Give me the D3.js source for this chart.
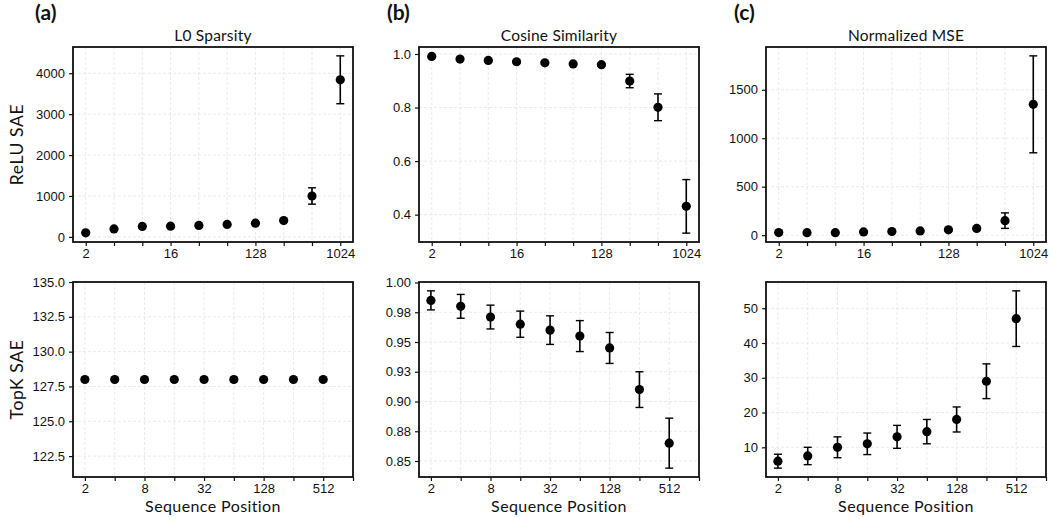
<!DOCTYPE html>
<html>
<head>
<meta charset="utf-8">
<script src="https://cdn.jsdelivr.net/npm/d3@7"></script>
<style>
  body { margin: 0; background: #fff; }
  svg { font-family: Lato, "Noto Sans", sans-serif; }
</style>
</head>
<body>
<svg id="chart" width="1049" height="519"></svg>
<script>

//Data
var posRelu = [2, 4, 8, 16, 32, 64, 128, 256, 512, 1024];
var posTopk = [2, 4, 8, 16, 32, 64, 128, 256, 512];

var reluL0 = [100, 195, 255, 262, 280, 305, 335, 400, 1000, 3840];
var reluL0Err = [8, 10, 10, 12, 14, 15, 18, 25, 200, 585];
var reluCos = [0.991, 0.981, 0.976, 0.971, 0.967, 0.963, 0.960, 0.899, 0.801, 0.431];
var reluCosErr = [0.002, 0.003, 0.003, 0.003, 0.004, 0.004, 0.005, 0.025, 0.05, 0.10];
var reluMse = [27, 26, 26, 33, 38, 44, 55, 70, 150, 1350];
var reluMseErr = [5, 5, 5, 6, 7, 8, 10, 12, 80, 500];

var topkL0 = [128, 128, 128, 128, 128, 128, 128, 128, 128];
var topkL0Err = [0, 0, 0, 0, 0, 0, 0, 0, 0];
var topkCos = [0.985, 0.980, 0.971, 0.965, 0.960, 0.955, 0.945, 0.910, 0.865];
var topkCosErr = [0.008, 0.010, 0.010, 0.011, 0.012, 0.013, 0.013, 0.015, 0.021];
var topkMse = [6, 7.5, 10, 11, 13, 14.5, 18, 29, 47];
var topkMseErr = [2, 2.5, 3, 3.1, 3.3, 3.5, 3.6, 5, 8];

//Tick labels
var reluXLabels = [2, 16, 128, 1024];
var topkXLabels = [2, 8, 32, 128, 512];
var l0TicksTop = [0, 1000, 2000, 3000, 4000];
var cosTicksTop = [0.4, 0.6, 0.8, 1.0];
var mseTicksTop = [0, 500, 1000, 1500];
var l0TicksBottom = [122.5, 125.0, 127.5, 130.0, 132.5, 135.0];
var cosTicksBottom = [0.85, 0.875, 0.9, 0.925, 0.95, 0.975, 1.0];
var cosLabelsBottom = ["0.85", "0.88", "0.90", "0.93", "0.95", "0.98", "1.00"];
var mseTicksBottom = [10, 20, 30, 40, 50];

var titles = ["L0 Sparsity", "Cosine Similarity", "Normalized MSE"];
var panelTags = ["(a)", "(b)", "(c)"];
var rowLabels = ["ReLU SAE", "TopK SAE"];

//Layout
var colX = [73, 419, 766], panelW = 280;
var rowY = [47, 282], panelH = 195;
var tagX = [35, 387, 734];

var svg = d3.select("#chart");

var panels = [
  {row: 0, col: 0, x: posRelu, y: reluL0, e: reluL0Err, ticks: l0TicksTop, fmt: d => d},
  {row: 0, col: 1, x: posRelu, y: reluCos, e: reluCosErr, ticks: cosTicksTop, fmt: d3.format(".1f")},
  {row: 0, col: 2, x: posRelu, y: reluMse, e: reluMseErr, ticks: mseTicksTop, fmt: d => d},
  {row: 1, col: 0, x: posTopk, y: topkL0, e: topkL0Err, ticks: l0TicksBottom, fmt: d3.format(".1f"), ylim: [121, 135]},
  {row: 1, col: 1, x: posTopk, y: topkCos, e: topkCosErr, ticks: cosTicksBottom, fmt: (d, i) => cosLabelsBottom[i]},
  {row: 1, col: 2, x: posTopk, y: topkMse, e: topkMseErr, ticks: mseTicksBottom, fmt: d => d}
];

panels.forEach(function(p) {
  var left = colX[p.col], top = rowY[p.row];
  var g = svg.append("g").attr("transform", "translate(" + left + "," + top + ")");

  //x scale: log2 with 5% margin, bottom row stretched to the 1024 tick
  var lx = p.x.map(Math.log2);
  var lo = d3.min(lx), hi = d3.max(lx), pad = (hi - lo) * 0.05;
  var xDom = p.row == 0 ? [lo - pad, hi + pad] : [lo - pad, Math.max(hi + pad, 10)];
  var xScale = d3.scaleLog().base(2)
      .domain([Math.pow(2, xDom[0]), Math.pow(2, xDom[1])])
      .range([0, panelW]);

  var yDom;
  if (p.ylim) {
    yDom = p.ylim;
  } else {
    var ymin = d3.min(p.y, (d, i) => d - p.e[i]);
    var ymax = d3.max(p.y, (d, i) => d + p.e[i]);
    var yp = (ymax - ymin) * 0.05;
    yDom = [ymin - yp, ymax + yp];
  }
  var yScale = d3.scaleLinear().domain(yDom).range([panelH, 0]);

  var xTicks = d3.range(1, 11).map(k => Math.pow(2, k))
      .filter(t => t <= xScale.domain()[1] + 1e-6);
  var xLabels = p.row == 0 ? reluXLabels : topkXLabels;

  //grid
  g.append("g").selectAll("line")
    .data(xTicks)
    .enter().append("line")
      .attr("x1", d => xScale(d)).attr("x2", d => xScale(d))
      .attr("y1", 0).attr("y2", panelH)
      .attr("stroke", "#e4e4e4").attr("stroke-width", 0.8)
      .attr("stroke-dasharray", "3,2");

  g.append("g").selectAll("line")
    .data(p.ticks)
    .enter().append("line")
      .attr("x1", 0).attr("x2", panelW)
      .attr("y1", d => yScale(d)).attr("y2", d => yScale(d))
      .attr("stroke", "#e4e4e4").attr("stroke-width", 0.8)
      .attr("stroke-dasharray", "3,2");

  //axes
  var xAxis = d3.axisBottom(xScale)
      .tickValues(xTicks)
      .tickSize(4).tickPadding(3)
      .tickFormat(d => xLabels.indexOf(d) >= 0 ? d : "");
  var xg = g.append("g").attr("transform", "translate(0," + panelH + ")").call(xAxis);
  xg.selectAll(".tick text").filter(function() { return this.textContent == ""; }).remove();

  var yAxis = d3.axisLeft(yScale)
      .tickValues(p.ticks).tickSize(4).tickPadding(4)
      .tickFormat(p.fmt);
  var yg = g.append("g").call(yAxis);

  [xg, yg].forEach(function(a) {
    a.select(".domain").remove();
    a.selectAll(".tick line").attr("stroke", "#111").attr("stroke-width", 1.2);
    a.selectAll(".tick text").attr("fill", "#111").style("font-size", "13px");
  });

  //frame
  g.append("rect")
    .attr("x", 0).attr("y", 0)
    .attr("width", panelW).attr("height", panelH)
    .attr("fill", "none").attr("stroke", "#111").attr("stroke-width", 1.8);

  //error bars
  var pts = p.x.map((d, i) => ({x: d, y: p.y[i], e: p.e[i]}));
  var eb = g.append("g").selectAll("g").data(pts.filter(d => d.e > 0)).enter().append("g");
  eb.append("line")
    .attr("x1", d => xScale(d.x)).attr("x2", d => xScale(d.x))
    .attr("y1", d => yScale(d.y - d.e)).attr("y2", d => yScale(d.y + d.e))
    .attr("stroke", "#000").attr("stroke-width", 1.6);
  eb.append("line")
    .attr("x1", d => xScale(d.x) - 4).attr("x2", d => xScale(d.x) + 4)
    .attr("y1", d => yScale(d.y - d.e)).attr("y2", d => yScale(d.y - d.e))
    .attr("stroke", "#000").attr("stroke-width", 1.4);
  eb.append("line")
    .attr("x1", d => xScale(d.x) - 4).attr("x2", d => xScale(d.x) + 4)
    .attr("y1", d => yScale(d.y + d.e)).attr("y2", d => yScale(d.y + d.e))
    .attr("stroke", "#000").attr("stroke-width", 1.4);

  //dots
  g.append("g").selectAll("circle").data(pts).enter().append("circle")
    .attr("cx", d => xScale(d.x)).attr("cy", d => yScale(d.y))
    .attr("r", 4.6).attr("fill", "#000");

  //titles and labels
  if (p.row == 0) {
    g.append("text")
      .attr("x", panelW / 2).attr("y", -6.5)
      .attr("text-anchor", "middle")
      .style("font-size", "15.5px").style("letter-spacing", "0.2px").attr("fill", "#111")
      .text(titles[p.col]);
    svg.append("text")
      .attr("x", tagX[p.col]).attr("y", 20)
      .style("font-size", "21px").style("font-weight", "bold").attr("fill", "#111")
      .text(panelTags[p.col]);
  } else {
    g.append("text")
      .attr("x", panelW / 2).attr("y", panelH + 35)
      .attr("text-anchor", "middle")
      .style("font-size", "16px").style("letter-spacing", "0.4px").attr("fill", "#111")
      .text("Sequence Position");
  }
  if (p.col == 0) {
    g.append("text")
      .attr("transform", "translate(" + (-50) + "," + (panelH / 2) + ") rotate(-90)")
      .attr("text-anchor", "middle")
      .style("font-size", "17.5px").style("letter-spacing", "0.6px").attr("fill", "#111")
      .text(rowLabels[p.row]);
  }
});

</script>
</body>
</html>
